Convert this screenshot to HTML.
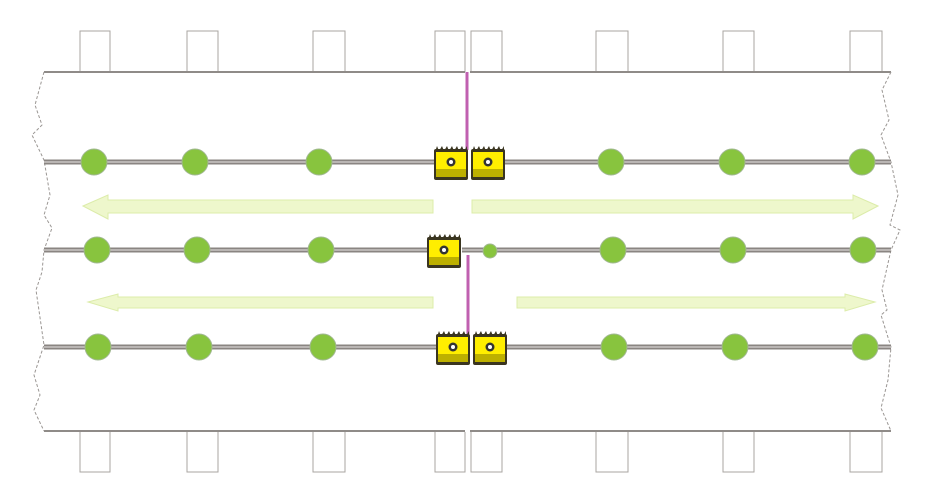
<!DOCTYPE html>
<html><head><style>html,body{margin:0;padding:0;background:#fff}svg{display:block}</style></head>
<body>
<svg width="932" height="502" viewBox="0 0 932 502" xmlns="http://www.w3.org/2000/svg">
<defs>
<g id="blk">
<rect x="0" y="3" width="34" height="31" rx="2" fill="#3a3520"/>
<path d="M1 6 L3 0 L5 5 L8 0 L10 5 L13 0 L15 5 L18 0 L20 5 L23 0 L25 5 L28 0 L30 5 L33 0 L33 7 H1Z" fill="#3a3520"/>
<rect x="2" y="6" width="30" height="17" fill="#ffee00"/>
<rect x="2" y="23" width="30" height="8" fill="#bdb000"/>
<circle cx="17" cy="16" r="4.5" fill="#333"/><circle cx="17" cy="16" r="2" fill="#fff"/>
</g>
</defs>
<g fill="none" stroke="#a9a5a2" stroke-width="1">
<path d="M80 72V31h30v41M187 72V31h31v41M313 72V31h32v41M435 72V31h30v41M471 72V31h31v41M596 72V31h32v41M723 72V31h31v41M850 72V31h32v41"/>
<path d="M80 432V472h30V432M187 432V472h31V432M313 432V472h32V432M435 432V472h30V432M471 432V472h31V432M596 432V472h32V432M723 432V472h31V432M850 432V472h32V432"/>
</g>
<g stroke="#8f8b88" stroke-width="2" fill="none">
<path d="M44 72H465M470 72H891"/>
<path d="M44 431H465M470 431H891"/>
</g>
<g stroke="#9a9693" stroke-width="1" stroke-dasharray="3,2" fill="none">
<path d="M44 72 L35 105 L42 125 L32 135 L44 160 L50 195 L44 215 L52 228 L44 250 L42 272 L36 290 L44 345 L34 375 L40 395 L34 410 L44 431"/>
<path d="M891 72 L882 90 L889 120 L881 135 L891 162 L898 195 L890 225 L900 230 L891 250 L882 290 L887 310 L881 315 L891 347 L888 380 L881 408 L891 431"/>
</g>
<g stroke="#8a8582" stroke-width="5">
<path d="M44 162H434M505 162H891"/>
<path d="M44 250H428M462 250H891"/>
<path d="M44 347H436M507 347H891"/>
</g>
<g stroke="#d8d4d1" stroke-width="1.2">
<path d="M44 162H434M505 162H891M44 250H428M462 250H891M44 347H436M507 347H891"/>
</g>
<path d="M467 72V150M468 255V336" stroke="#c060b0" stroke-width="3"/>
<g fill="#eef7cc" stroke="#dcecaa" stroke-width="1">
<path d="M83 206 L108 195 L108 200 L433 200 L433 213 L108 213 L108 219Z"/>
<path d="M878 206 L853 195 L853 200 L472 200 L472 213 L853 213 L853 219Z"/>
<path d="M88 302 L118 294 L118 297 L433 297 L433 308 L118 308 L118 311Z"/>
<path d="M875 302 L845 294 L845 297 L517 297 L517 308 L845 308 L845 311Z"/>
</g>
<g fill="#88c43e" stroke="#a0b890" stroke-width="1">
<circle cx="94" cy="162" r="13"/><circle cx="195" cy="162" r="13"/><circle cx="319" cy="162" r="13"/>
<circle cx="611" cy="162" r="13"/><circle cx="732" cy="162" r="13"/><circle cx="862" cy="162" r="13"/>
<circle cx="97" cy="250" r="13"/><circle cx="197" cy="250" r="13"/><circle cx="321" cy="250" r="13"/>
<circle cx="490" cy="251" r="7"/>
<circle cx="613" cy="250" r="13"/><circle cx="733" cy="250" r="13"/><circle cx="863" cy="250" r="13"/>
<circle cx="98" cy="347" r="13"/><circle cx="199" cy="347" r="13"/><circle cx="323" cy="347" r="13"/>
<circle cx="614" cy="347" r="13"/><circle cx="735" cy="347" r="13"/><circle cx="865" cy="347" r="13"/>
</g>
<use href="#blk" x="434" y="146"/>
<use href="#blk" x="471" y="146"/>
<use href="#blk" x="427" y="234"/>
<use href="#blk" x="436" y="331"/>
<use href="#blk" x="473" y="331"/>
</svg>
</body></html>
